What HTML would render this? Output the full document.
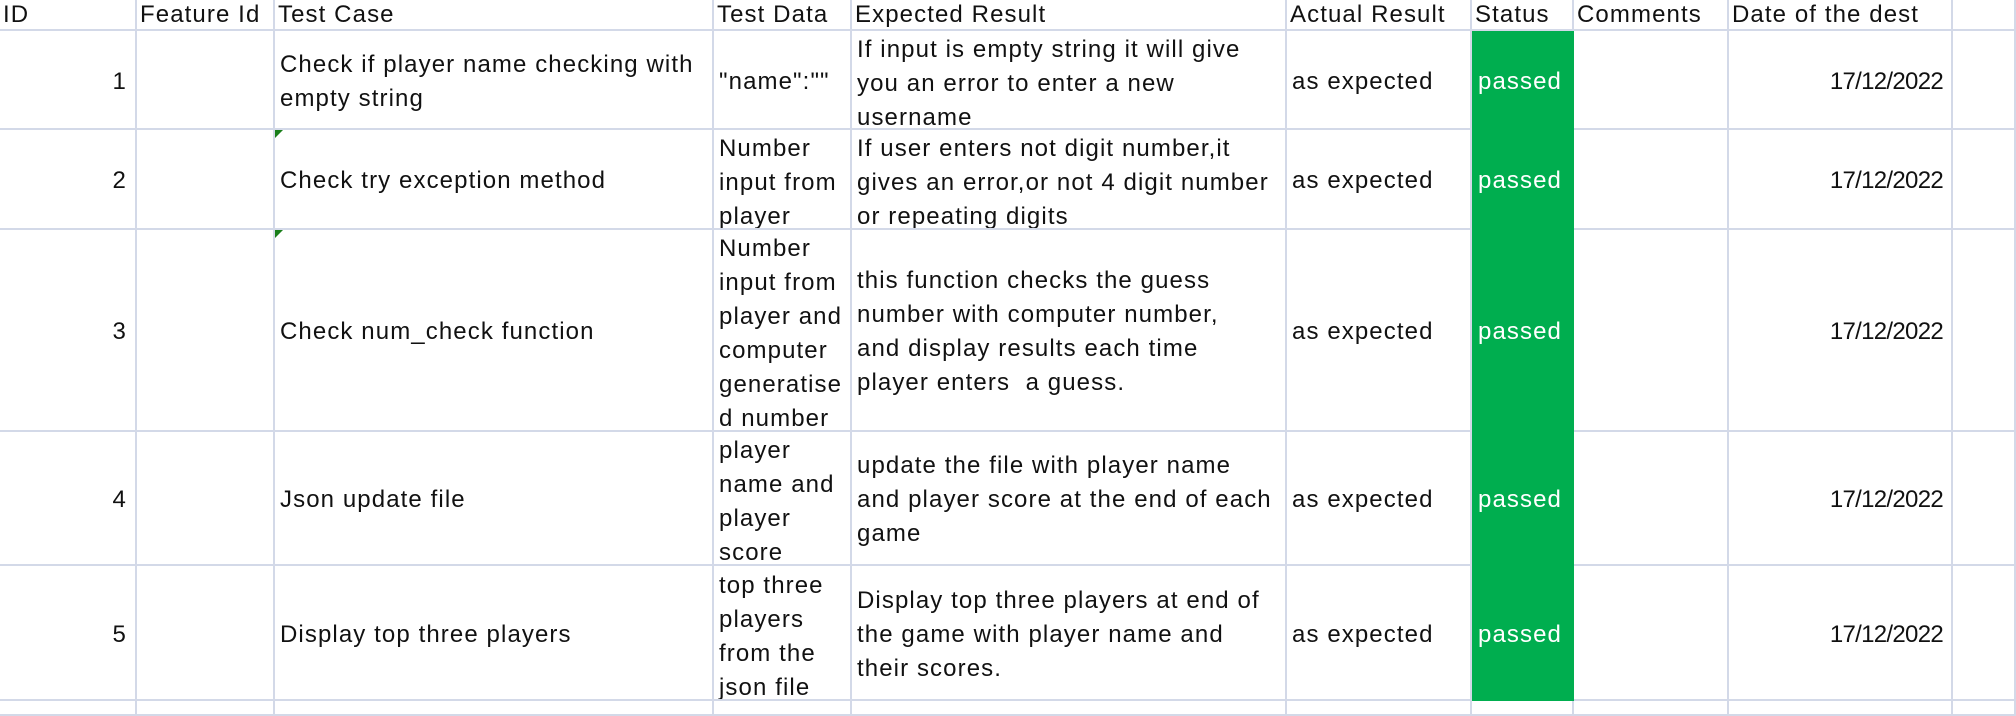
<!DOCTYPE html>
<html><head><meta charset="utf-8"><style>
html,body{margin:0;padding:0;background:#fff;}
body{width:2016px;height:716px;overflow:hidden;font-family:"Liberation Sans",Arial,sans-serif;font-size:24px;letter-spacing:1.1px;color:#111;}
.g{display:grid;grid-template-columns:137px 138px 439px 138px 435px 185px 102px 155px 224px 63px;grid-template-rows:31px 99px 100px 202px 134px 135px 15px;}
.c{box-sizing:border-box;border-right:2px solid #d3d9e8;border-bottom:2px solid #d3d9e8;overflow:hidden;display:flex;align-items:center;padding:4px 5px 0 5px;line-height:34px;position:relative;white-space:nowrap;}
.c.m{padding-top:8px;}
.r{justify-content:flex-end;padding-right:8px;}
.d{letter-spacing:-0.7px;}
.c.h{line-height:30px;padding:0 0 0 3px;}
.s{background:#00ae4f;color:#fff;border-bottom-color:#00ae4f;border-right-color:#00ae4f;padding-left:6px;}
.t::before{content:"";position:absolute;left:0;top:0;border-top:8px solid #1a7f1a;border-right:8px solid transparent;}
</style></head><body><div class="g">
<div class="c h">ID</div><div class="c h">Feature Id</div><div class="c h">Test Case</div><div class="c h">Test Data</div><div class="c h">Expected Result</div><div class="c h">Actual Result</div><div class="c h">Status</div><div class="c h">Comments</div><div class="c h">Date of the dest</div><div class="c h"></div>

<div class="c r">1</div><div class="c"></div><div class="c">Check if player name checking with<br>empty string</div><div class="c">"name":""</div><div class="c m">If input is empty string it will give<br>you an error to enter a new<br>username</div><div class="c">as expected</div><div class="c s">passed</div><div class="c"></div><div class="c r d">17/12/2022</div><div class="c"></div>

<div class="c r">2</div><div class="c"></div><div class="c t">Check try exception method</div><div class="c m">Number<br>input from<br>player</div><div class="c m">If user enters not digit number,it<br>gives an error,or not 4 digit number<br>or repeating digits</div><div class="c">as expected</div><div class="c s">passed</div><div class="c"></div><div class="c r d">17/12/2022</div><div class="c"></div>

<div class="c r">3</div><div class="c"></div><div class="c t">Check num_check function</div><div class="c m">Number<br>input from<br>player and<br>computer<br>generatise<br>d number</div><div class="c">this function checks the guess<br>number with computer number,<br>and display results each time<br>player enters &nbsp;a guess.</div><div class="c">as expected</div><div class="c s">passed</div><div class="c"></div><div class="c r d">17/12/2022</div><div class="c"></div>

<div class="c r">4</div><div class="c"></div><div class="c">Json update file</div><div class="c m">player<br>name and<br>player<br>score</div><div class="c">update the file with player name<br>and player score at the end of each<br>game</div><div class="c">as expected</div><div class="c s">passed</div><div class="c"></div><div class="c r d">17/12/2022</div><div class="c"></div>

<div class="c r">5</div><div class="c"></div><div class="c">Display top three players</div><div class="c m">top three<br>players<br>from the<br>json file</div><div class="c">Display top three players at end of<br>the game with player name and<br>their scores.</div><div class="c">as expected</div><div class="c s">passed</div><div class="c"></div><div class="c r d">17/12/2022</div><div class="c"></div>

<div class="c"></div><div class="c"></div><div class="c"></div><div class="c"></div><div class="c"></div><div class="c"></div><div class="c"></div><div class="c"></div><div class="c"></div><div class="c"></div>
</div></body></html>
